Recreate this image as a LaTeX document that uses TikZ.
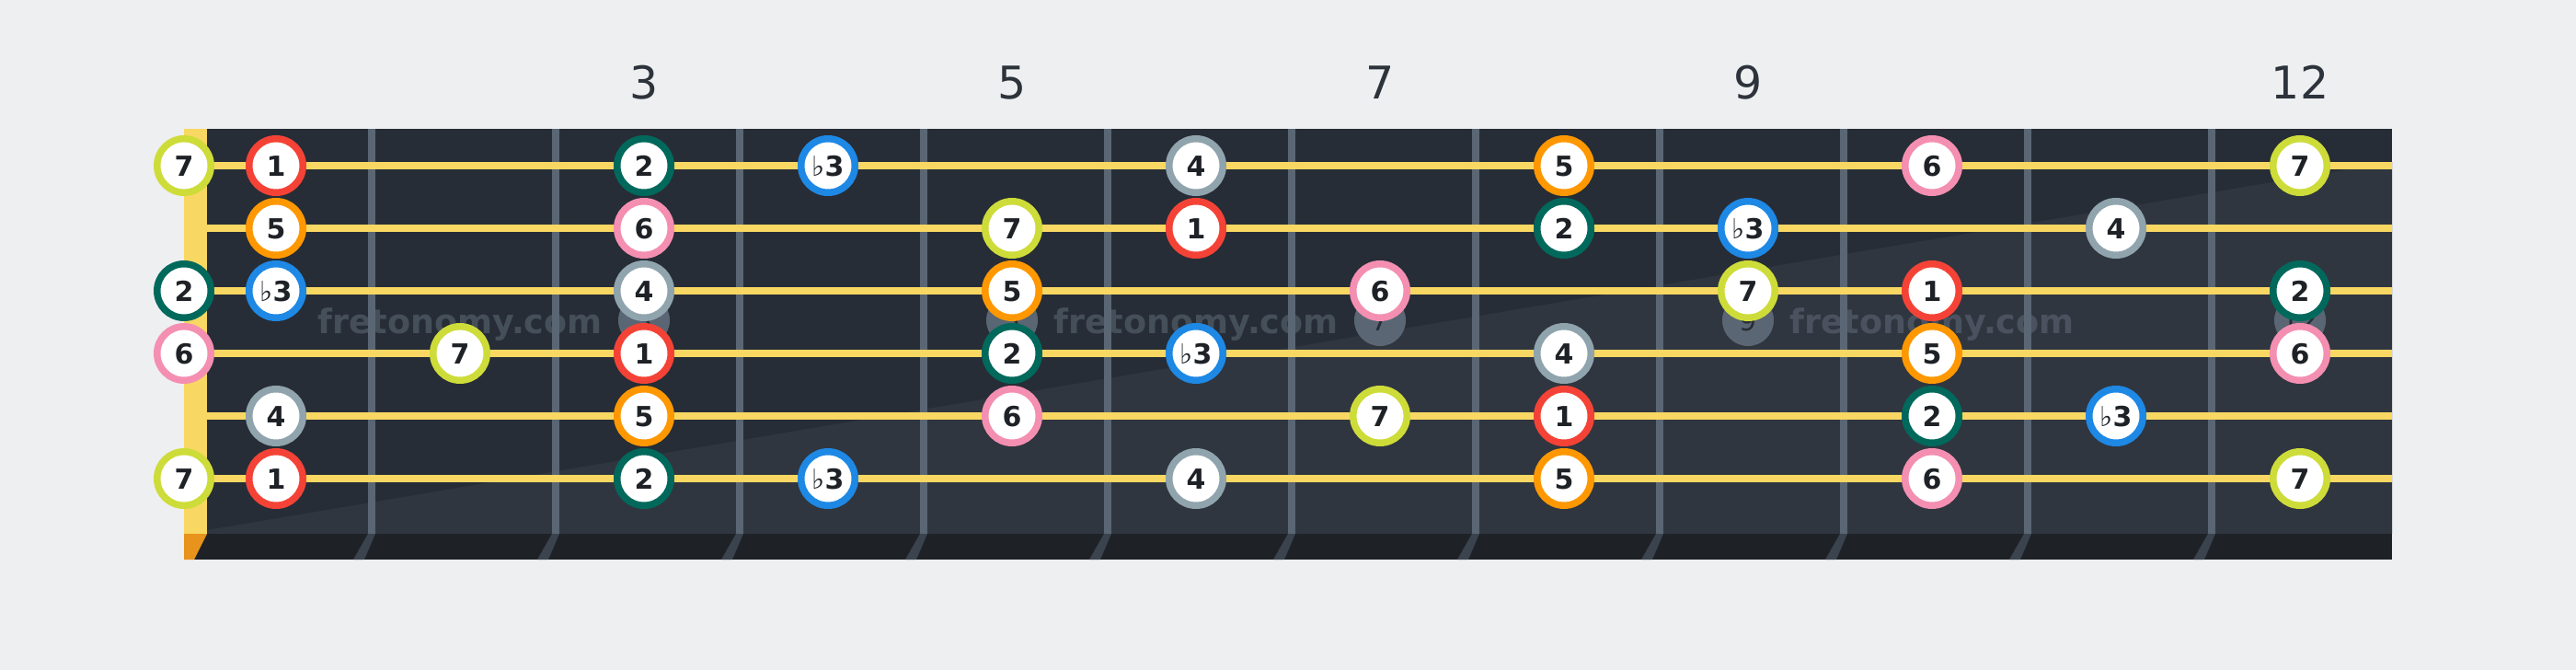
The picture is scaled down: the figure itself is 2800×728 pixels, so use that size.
\documentclass[tikz,border=0pt]{standalone}
\usepackage{fontspec}
\setmainfont{DejaVu Sans}
\definecolor{bg}{HTML}{EEEFF1}
\definecolor{boarddark}{HTML}{272D36}
\definecolor{boardlight}{HTML}{30363F}
\definecolor{strip}{HTML}{1E2227}
\definecolor{fretc}{HTML}{5A6673}
\definecolor{fretslant}{HTML}{3A434E}
\definecolor{nutc}{HTML}{F8D862}
\definecolor{nutbot}{HTML}{E8931C}
\definecolor{txt}{HTML}{1E2227}
\definecolor{fretnum}{HTML}{2D333B}
\definecolor{col1}{HTML}{F44336}
\definecolor{col2}{HTML}{00695C}
\definecolor{col3}{HTML}{1E88E5}
\definecolor{col4}{HTML}{90A4AE}
\definecolor{col5}{HTML}{FF9800}
\definecolor{col6}{HTML}{F48FB1}
\definecolor{col7}{HTML}{CDDC39}
\newcommand\flatsym{{\mdseries ♭}}
\begin{document}
\begin{tikzpicture}[x=1pt,y=-1pt,
  note/.style={circle,fill=white,line width=7.5pt,minimum size=58.5pt,inner sep=0pt,
    text=txt,font=\fontsize{30}{30}\selectfont\bfseries,text height=22pt,text depth=0pt},
  c1/.style={draw=col1},c2/.style={draw=col2},c3/.style={draw=col3},c4/.style={draw=col4},
  c5/.style={draw=col5},c6/.style={draw=col6},c7/.style={draw=col7},
  marker/.style={circle,fill=fretc,minimum size=56pt,inner sep=0pt,text=boarddark,
    font=\fontsize{30}{30}\selectfont,text height=22pt,text depth=0pt},
  wm/.style={anchor=base,text=fretc,text opacity=0.6,inner sep=0pt,
    font=\fontsize{36.5}{36}\selectfont\bfseries},
  fnum/.style={anchor=base,text=fretnum,inner sep=0pt,font=\fontsize{49}{49}\selectfont},
  stringline/.style={draw=nutc,line width=7.5pt}]
\useasboundingbox (0,0) rectangle (2800,728);
\fill[bg] (0,0) rectangle (2800,728);
% board
\fill[boarddark] (225,140) rectangle (2600,580);
\fill[boardlight] (225,576) -- (2600,176) -- (2600,580) -- (225,580) -- cycle;
% frets
\foreach \k in {0,...,10}{
  \pgfmathsetmacro\fx{404+200*\k}
  \fill[fretc] (\fx-4,140) rectangle (\fx+4,580);
}
% bottom strip
\fill[strip] (200,580) rectangle (2600,608);
\fill[nutbot] (200,580) -- (225,580) -- (211,608) -- (200,608) -- cycle;
\foreach \k in {0,...,10}{
  \pgfmathsetmacro\fx{404+200*\k}
  \fill[fretslant] (\fx-4,580) -- (\fx+4,580) -- (\fx-8,608) -- (\fx-20,608) -- cycle;
}
% nut
\fill[nutc] (200,140) rectangle (225,580);
% markers
\foreach \m/\mx in {3/700,5/1100,7/1500,9/1900,12/2500}{
  \node[marker] (m\m) at (\mx,348) {\m};
}
% watermarks
\node[wm] (w1) at (500,362) {fretonomy.com};
\node[wm] (w2) at (1300,362) {fretonomy.com};
\node[wm] (w3) at (2100,362) {fretonomy.com};
% strings
\foreach \s in {1,...,6}{
  \pgfmathsetmacro\sy{180+68*(\s-1)}
  \draw[stringline] (225,\sy) -- (2600,\sy);
}
% notes
\foreach \s/\f/\c/\l in {
1/0/c7/7, 1/1/c1/1, 1/3/c2/2, 1/4/c3/\flatsym3, 1/6/c4/4, 1/8/c5/5, 1/10/c6/6, 1/12/c7/7,
2/1/c5/5, 2/3/c6/6, 2/5/c7/7, 2/6/c1/1, 2/8/c2/2, 2/9/c3/\flatsym3, 2/11/c4/4,
3/0/c2/2, 3/1/c3/\flatsym3, 3/3/c4/4, 3/5/c5/5, 3/7/c6/6, 3/9/c7/7, 3/10/c1/1, 3/12/c2/2,
4/0/c6/6, 4/2/c7/7, 4/3/c1/1, 4/5/c2/2, 4/6/c3/\flatsym3, 4/8/c4/4, 4/10/c5/5, 4/12/c6/6,
5/1/c4/4, 5/3/c5/5, 5/5/c6/6, 5/7/c7/7, 5/8/c1/1, 5/10/c2/2, 5/11/c3/\flatsym3,
6/0/c7/7, 6/1/c1/1, 6/3/c2/2, 6/4/c3/\flatsym3, 6/6/c4/4, 6/8/c5/5, 6/10/c6/6, 6/12/c7/7}{
  \pgfmathsetmacro\xx{\f==0 ? 200 : 100+200*\f}
  \pgfmathsetmacro\yy{180+68*(\s-1)}
  \node[note,\c] (n\s-\f) at (\xx,\yy) {\l};
}
% fret numbers
\foreach \m/\mx in {3/700,5/1100,7/1500,9/1900,12/2500}{
  \node[fnum] (fn\m) at (\mx,107) {\m};
}
\end{tikzpicture}
\end{document}
